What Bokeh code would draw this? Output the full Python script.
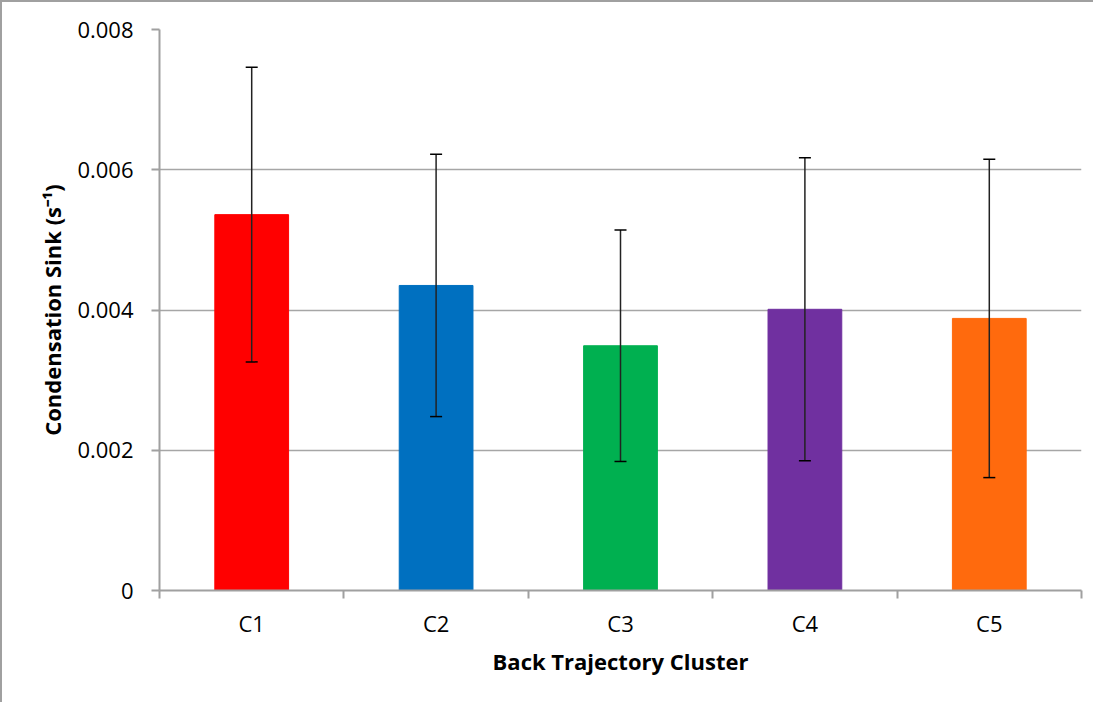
from bokeh.plotting import figure
from bokeh.models import ColumnDataSource, Whisker, FixedTicker, Range1d, TeeHead
from bokeh.embed import file_html
from bokeh.resources import INLINE

clusters = ["C1", "C2", "C3", "C4", "C5"]
means = [0.00536, 0.00435, 0.00349, 0.00401, 0.00388]
errors = [0.00210, 0.00187, 0.00165, 0.00216, 0.00227]
colors = ["#FF0000", "#0070C0", "#00B050", "#7030A0", "#FF6A0D"]
y_ticks = [0, 0.002, 0.004, 0.006, 0.008]
y_labels = ["0", "0.002", "0.004", "0.006", "0.008"]

xpos = [i + 0.5 for i in range(len(clusters))]
src = ColumnDataSource(dict(
    x=xpos, top=means, color=colors,
    upper=[m + e for m, e in zip(means, errors)],
    lower=[m - e for m, e in zip(means, errors)],
))

p = figure(width=1093, height=702, output_backend="svg", toolbar_location=None,
           x_range=Range1d(0, len(clusters)), y_range=Range1d(0, 0.008),
           min_border_left=157, min_border_right=14, min_border_top=27, min_border_bottom=114)
p.styles = {"border-left": "2px solid #A0A0A0", "border-top": "2px solid #A0A0A0"}
p.outline_line_color = None
p.background_fill_color = "white"

p.vbar(x="x", top="top", width=0.4, color="color", source=src)
p.add_layout(Whisker(base="x", upper="upper", lower="lower", source=src, level="overlay",
                     line_color="#222222", line_width=1.5,
                     upper_head=TeeHead(size=12, line_color="black", line_width=1.5),
                     lower_head=TeeHead(size=12, line_color="black", line_width=1.5)))

font = "Open Sans"
# x axis
p.xaxis.ticker = FixedTicker(ticks=xpos, minor_ticks=list(range(len(clusters) + 1)))
p.xaxis.major_label_overrides = {x: c for x, c in zip(xpos, clusters)}
p.xaxis.major_tick_line_color = None
p.xaxis.minor_tick_line_color = "#A0A0A0"
p.xaxis.minor_tick_line_width = 2
p.xaxis.minor_tick_out = 8
p.xaxis.minor_tick_in = 0
p.xaxis.axis_line_color = "#A0A0A0"
p.xaxis.axis_line_width = 2
p.xaxis.major_label_text_font = font
p.xaxis.major_label_text_font_size = "22px"
p.xaxis.major_label_text_color = "black"
p.xaxis.major_label_standoff = 9
p.xaxis.axis_label = "Back Trajectory Cluster"
p.xaxis.axis_label_text_font = font
p.xaxis.axis_label_text_font_size = "22px"
p.xaxis.axis_label_text_font_style = "bold"
p.xaxis.axis_label_text_color = "black"
p.xaxis.axis_label_standoff = 5

# y axis
p.yaxis.ticker = FixedTicker(ticks=y_ticks, minor_ticks=[])
p.yaxis.major_label_overrides = {t: l for t, l in zip(y_ticks, y_labels)}
p.yaxis.major_tick_line_color = "#A0A0A0"
p.yaxis.major_tick_line_width = 2
p.yaxis.major_tick_out = 8
p.yaxis.major_tick_in = 0
p.yaxis.axis_line_color = "#A0A0A0"
p.yaxis.axis_line_width = 2
p.yaxis.major_label_text_font = font
p.yaxis.major_label_text_font_size = "22px"
p.yaxis.major_label_text_color = "black"
p.yaxis.major_label_standoff = 18
p.yaxis.axis_label = "Condensation Sink (s⁻¹)"
p.yaxis.axis_label_text_font = font
p.yaxis.axis_label_text_font_size = "22px"
p.yaxis.axis_label_text_font_style = "bold"
p.yaxis.axis_label_text_color = "black"
p.yaxis.axis_label_standoff = 7

p.xgrid.grid_line_color = None
p.ygrid.grid_line_color = "#A6A6A6"
p.ygrid.grid_line_width = 1.5
p.ygrid.ticker = FixedTicker(ticks=y_ticks)

open("out.html", "w").write(file_html(p, INLINE))
